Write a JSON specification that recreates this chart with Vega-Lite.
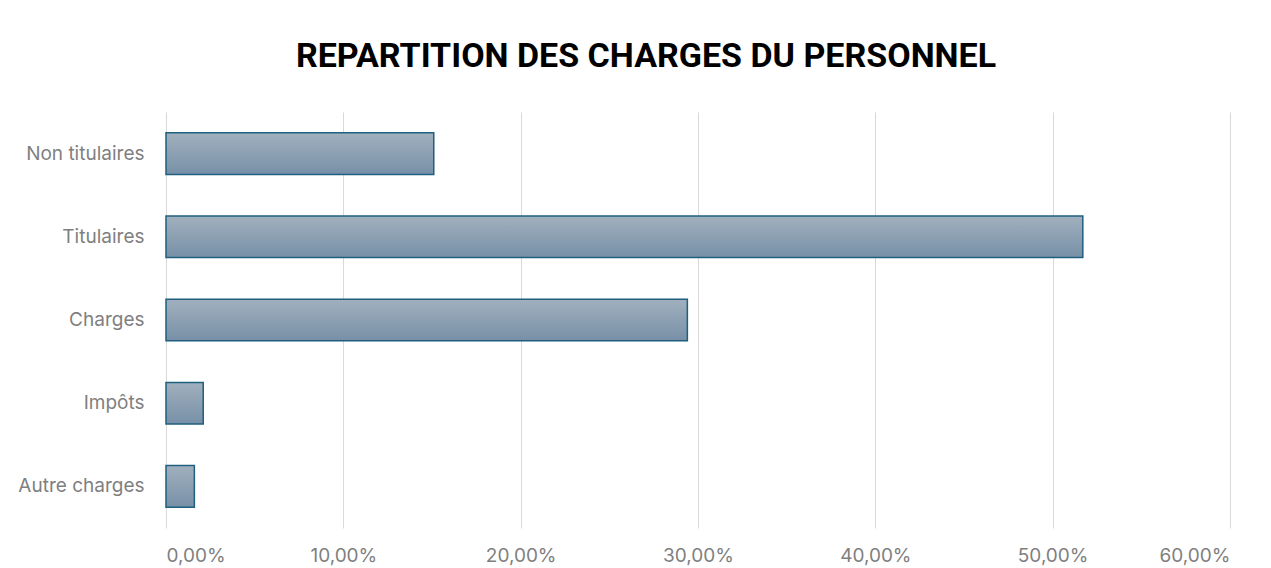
{
  "$schema": "https://vega.github.io/schema/vega-lite/v6.json",
  "autosize": "none",
  "width": 1064,
  "height": 416,
  "padding": {"left": 166, "top": 112, "right": 41, "bottom": 40},
  "background": "white",
  "title": {
    "text": "REPARTITION DES CHARGES DU PERSONNEL",
    "font": "Roboto",
    "fontSize": 34,
    "fontWeight": "bold",
    "color": "#000000",
    "anchor": "middle",
    "dx": -52,
    "offset": 38
  },
  "data": {
    "values": [
      {"cat": "Non titulaires", "val": 0.151},
      {"cat": "Titulaires", "val": 0.517},
      {"cat": "Charges", "val": 0.294},
      {"cat": "Impôts ", "val": 0.021},
      {"cat": "Autre charges", "val": 0.016}
    ]
  },
  "mark": {
    "type": "bar",
    "stroke": "#1f5f7f",
    "strokeWidth": 1.5,
    "color": {
      "gradient": "linear",
      "x1": 0, "y1": 0, "x2": 0, "y2": 1,
      "stops": [
        {"offset": 0, "color": "#a1b0be"},
        {"offset": 1, "color": "#7790a7"}
      ]
    }
  },
  "encoding": {
    "y": {
      "field": "cat",
      "type": "nominal",
      "sort": null,
      "title": null,
      "scale": {"paddingInner": 0.5, "paddingOuter": 0.25},
      "axis": {
        "domain": false,
        "ticks": false,
        "labelFont": "Inter",
        "labelFontSize": 19,
        "labelColor": "#7f7f7f",
        "labelPadding": 22,
        "grid": false
      }
    },
    "x": {
      "field": "val",
      "type": "quantitative",
      "title": null,
      "scale": {"domain": [0, 0.6], "nice": false},
      "axis": {
        "values": [0, 0.1, 0.2, 0.3, 0.4, 0.5, 0.6],
        "labelExpr": "replace(format(datum.value, '.2%'), '.', ',')",
        "domain": false,
        "ticks": false,
        "grid": true,
        "gridColor": "#d9d9d9",
        "gridWidth": 1,
        "labelFont": "Inter",
        "labelFontSize": 19,
        "labelColor": "#7f7f7f",
        "labelPadding": 18
      }
    }
  },
  "config": {"view": {"stroke": null}}
}
